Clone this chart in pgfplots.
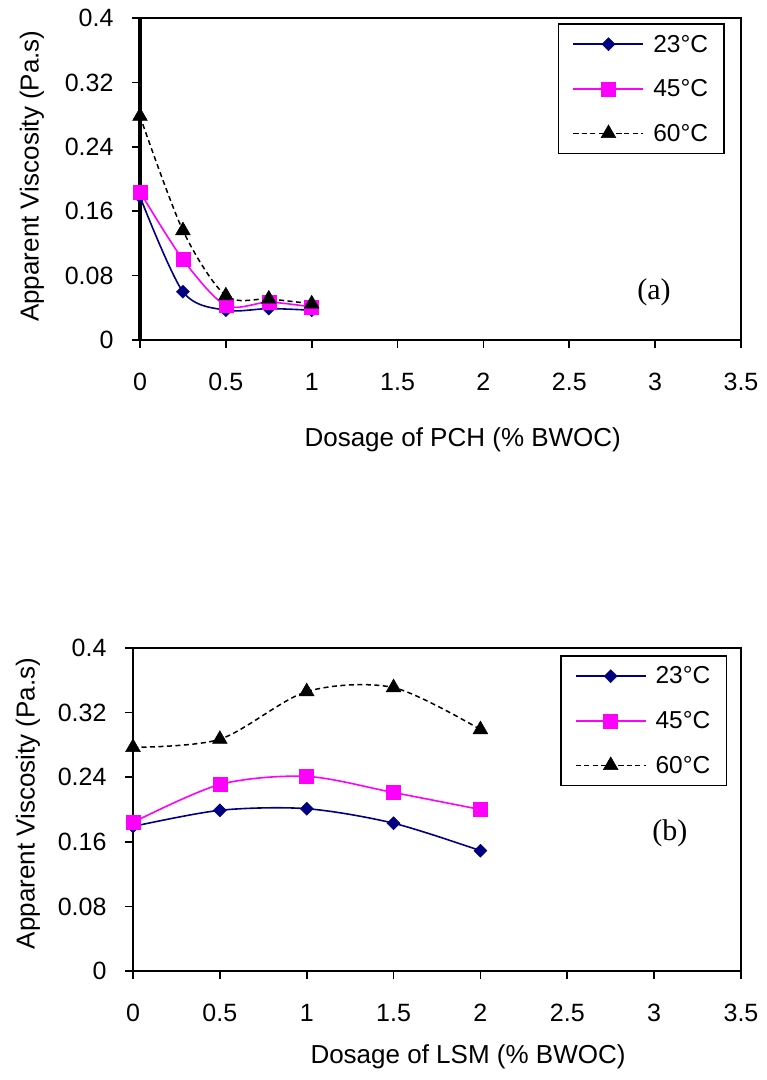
\documentclass[border=0pt]{standalone}
\usepackage{fontspec}
\setmainfont{Liberation Sans}
\newfontfamily\seriffont{Liberation Serif}
\usepackage{pgfplots}
\pgfplotsset{compat=1.18}
\definecolor{navyb}{RGB}{0,0,128}
\definecolor{mag}{RGB}{255,0,255}

\pgfplotsset{
  myaxis/.style={
    scale only axis,
    anchor=south west,
    xmin=0, xmax=3.5, ymin=0, ymax=0.4,
    xtick={0,0.5,1,1.5,2,2.5,3,3.5},
    xticklabels={0,0.5,1,1.5,2,2.5,3,3.5},
    ytick={0,0.08,0.16,0.24,0.32,0.4},
    yticklabels={0,0.08,0.16,0.24,0.32,0.4},
    tick align=outside, xtick pos=bottom, ytick pos=left,
    major tick length=8pt,
    every tick/.style={black, line width=1.6pt},
    axis line style={line width=2pt},
    tick label style={font=\fontsize{25}{30}\selectfont},
    xticklabel style={anchor=north, yshift=-22pt},
    yticklabel style={anchor=east, xshift=-15pt},
    label style={font=\fontsize{26}{31}\selectfont},
    clip=false,
    legend cell align=left,
    legend style={anchor=north east, draw=black, line width=1.5pt,
      font=\fontsize{24.5}{28}\selectfont, inner xsep=14pt, inner ysep=9pt,
      row sep=22pt},
    legend image code/.code={\draw[mark repeat=2,mark phase=2,##1] plot coordinates {(0pt,0pt) (35pt,0pt) (70pt,0pt)}; \path (77pt,0pt);},
  },
  s23/.style={navyb, line width=1.6pt, smooth, tension=0.5, mark=square*, mark size=4.6pt, mark options={solid, fill=navyb, rotate=45, line width=0.5pt}},
  s45/.style={mag, line width=1.6pt, smooth, tension=0.5, mark=square*, mark size=7pt, mark options={solid, fill=mag, line width=0.5pt}},
  s60/.style={black, line width=1.5pt, smooth, tension=0.5, dash pattern=on 5pt off 3.5pt, mark=triangle*, mark size=8.5pt, mark options={solid, fill=black, line width=0.5pt}},
}

\begin{document}
\begin{tikzpicture}
\useasboundingbox (0,0) rectangle (767pt,1080pt);

% ---------- (a) PCH ----------
\begin{axis}[myaxis,
  at={(140pt,740pt)}, width=601pt, height=322pt,
  xlabel={Dosage of PCH (\% BWOC)},
  ylabel={Apparent Viscosity (Pa.s)},
  xlabel style={at={(axis description cs:0.537,-0.31)}, anchor=center},
  ylabel style={at={(axis description cs:-0.1797,0.509)}, anchor=center, rotate=0},
  legend style={at={(axis description cs:0.973,0.984)}},
]
\draw[line width=4pt] (axis description cs:0,0) -- (axis description cs:0,1);
\addplot[s23] coordinates {(0,0.178) (0.25,0.060) (0.5,0.037) (0.75,0.039) (1,0.037)};
\addlegendentry{23°C}
\addplot[s45] coordinates {(0,0.184) (0.25,0.100) (0.5,0.043) (0.75,0.047) (1,0.041)};
\addlegendentry{45°C}
\addplot[s60] coordinates {(0,0.278) (0.25,0.136) (0.5,0.055) (0.75,0.051) (1,0.045)};
\addlegendentry{60°C}
\node[font=\seriffont\fontsize{30}{34}\selectfont] at (axis cs:2.993,0.0596) {(a)};
\end{axis}

% ---------- (b) LSM ----------
\begin{axis}[myaxis,
  at={(133pt,109pt)}, width=608pt, height=323pt,
  xlabel={Dosage of LSM (\% BWOC)},
  ylabel={Apparent Viscosity (Pa.s)},
  xlabel style={at={(axis description cs:0.551,-0.265)}, anchor=center},
  ylabel style={at={(axis description cs:-0.1727,0.519)}, anchor=center, rotate=0},
  legend style={at={(axis description cs:0.977,0.978)}},
]
\addplot[s23] coordinates {(0,0.179) (0.5,0.199) (1,0.201) (1.5,0.183) (2,0.149)};
\addlegendentry{23°C}
\addplot[s45] coordinates {(0,0.184) (0.5,0.231) (1,0.241) (1.5,0.221) (2,0.200)};
\addlegendentry{45°C}
\addplot[s60] coordinates {(0,0.277) (0.5,0.287) (1,0.346) (1.5,0.351) (2,0.299)};
\addlegendentry{60°C}
\node[font=\seriffont\fontsize{30}{34}\selectfont] at (axis cs:3.091,0.171) {(b)};
\end{axis}
\end{tikzpicture}
\end{document}
